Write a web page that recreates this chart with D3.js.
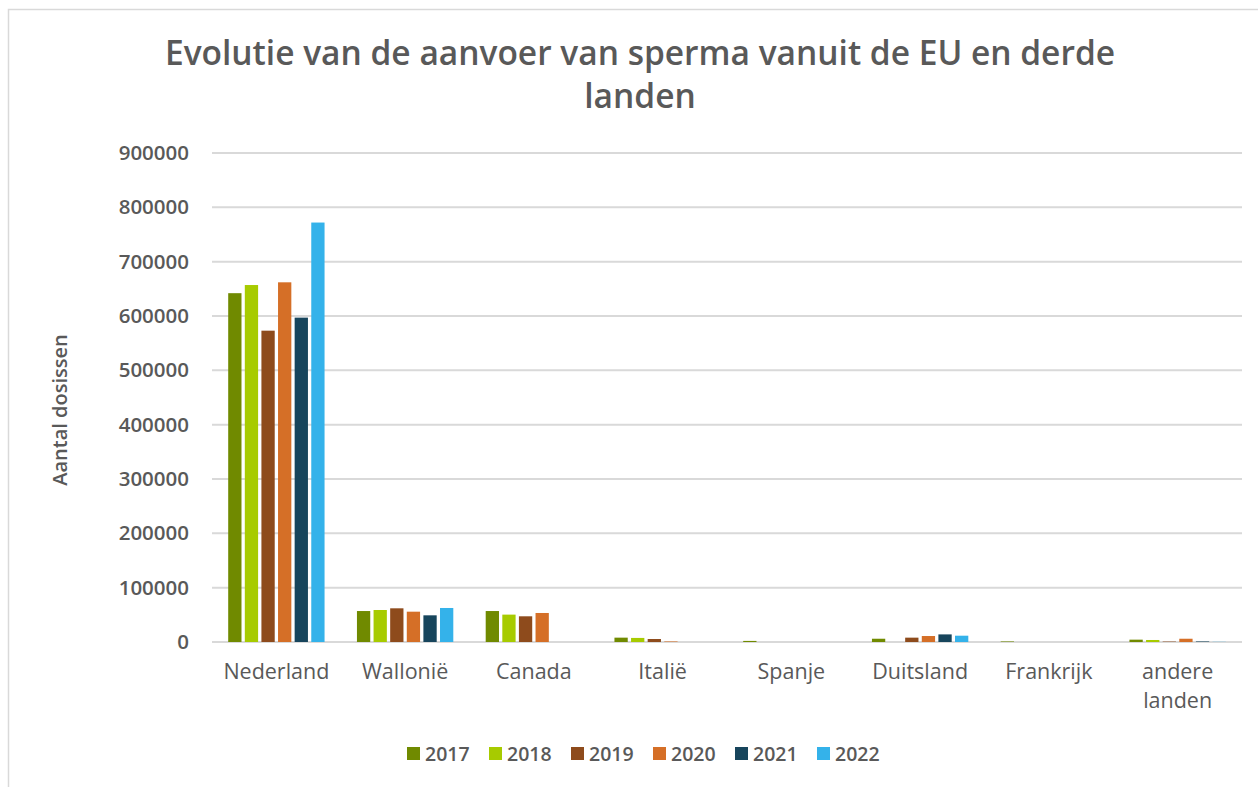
<!DOCTYPE html>
<html>
<head>
<meta charset="utf-8">
<script src="https://cdn.jsdelivr.net/npm/d3@7"></script>
<style>
  body { margin: 0; background: #fff; }
  text { font-family: 'Open Sans', sans-serif; fill: #595959; }
</style>
</head>
<body>
<script>
// Data
const countries = ['Nederland', 'Wallonië', 'Canada', 'Italië', 'Spanje', 'Duitsland', 'Frankrijk', 'andere landen'];
const years = ['2017', '2018', '2019', '2020', '2021', '2022'];
const colors = ['#708a00', '#a7cb00', '#8e4b1c', '#d56f27', '#17455c', '#34b2ea'];

// one array per year, values in the order of countries
const v2017 = [642000, 57000, 57000, 8000, 2000, 6000, 1000, 4300];
const v2018 = [657000, 58900, 50400, 7500, 0, 0, 0, 3700];
const v2019 = [573000, 62000, 47300, 5500, 0, 8000, 0, 800];
const v2020 = [662000, 55800, 53400, 1000, 0, 11000, 0, 6000];
const v2021 = [597000, 49100, 0, 0, 0, 14000, 0, 1000];
const v2022 = [772000, 62600, 0, 0, 0, 11600, 0, 300];
const series = [v2017, v2018, v2019, v2020, v2021, v2022];

const yTicks = [0, 100000, 200000, 300000, 400000, 500000, 600000, 700000, 800000, 900000];

// Width and height
const w = 1258;
const h = 787;
const plot = { left: 212, right: 1242, top: 153, bottom: 642 };

const svg = d3.select('body').append('svg').attr('width', w).attr('height', h);

// Chart border
svg.append('rect')
  .attr('x', 8.5).attr('y', 9.5)
  .attr('width', w + 10).attr('height', h + 10)
  .attr('fill', 'none')
  .attr('stroke', '#d9d9d9')
  .attr('stroke-width', 1.5);

// Title
const title = svg.append('text')
  .attr('text-anchor', 'middle')
  .style('font-size', '33.5px')
  .style('font-weight', 600);
title.append('tspan').attr('x', 640).attr('y', 65).text('Evolutie van de aanvoer van sperma vanuit de EU en derde');
title.append('tspan').attr('x', 640).attr('y', 108).text('landen');

// Scales
const x0 = d3.scaleBand().domain(countries).range([plot.left, plot.right]).paddingInner(0.2).paddingOuter(0.1);
const x1 = d3.scaleBand().domain(years).range([0, x0.bandwidth()]).padding(0.2);
const y = d3.scaleLinear().domain([0, 900000]).range([plot.bottom, plot.top]);

// Gridlines
svg.append('g')
  .selectAll('line')
  .data(yTicks)
  .enter()
  .append('line')
  .attr('x1', plot.left)
  .attr('x2', plot.right)
  .attr('y1', d => y(d))
  .attr('y2', d => y(d))
  .attr('stroke', '#d9d9d9')
  .attr('stroke-width', 2);

// Y axis labels
const yAxis = svg.append('g')
  .attr('transform', `translate(${plot.left - 23},0)`)
  .call(d3.axisLeft(y).tickValues(yTicks).tickFormat(d3.format('d')).tickSize(0).tickPadding(0));
yAxis.select('.domain').remove();
yAxis.selectAll('text')
  .style('font-size', '20.5px')
  .style('font-weight', 600)
  .style('font-family', "'Open Sans', sans-serif")
  .attr('fill', '#595959');

// Bars
svg.append('g')
  .selectAll('g')
  .data(series)
  .enter()
  .append('g')
  .attr('fill', (d, i) => colors[i])
  .each(function(vals, i) {
    d3.select(this)
      .selectAll('rect')
      .data(vals.map((v, j) => ({ country: countries[j], year: years[i], value: v })))
      .enter()
      .append('rect')
      .attr('x', d => x0(d.country) + x1(d.year))
      .attr('width', x1.bandwidth())
      .attr('y', d => y(d.value))
      .attr('height', d => plot.bottom - y(d.value));
  });

// Category labels
const xl = svg.append('g')
  .selectAll('text')
  .data(countries)
  .enter()
  .append('text')
  .attr('text-anchor', 'middle')
  .style('font-size', '21.5px')
  .style('font-weight', 500);
xl.each(function(d) {
  const cx = x0(d) + x0.bandwidth() / 2;
  const parts = d === 'andere landen' ? ['andere', 'landen'] : [d];
  parts.forEach((p, k) => {
    d3.select(this).append('tspan').attr('x', cx).attr('y', 679 + k * 29).text(p);
  });
});

// Y axis title
svg.append('text')
  .attr('transform', 'translate(67,410) rotate(-90)')
  .attr('text-anchor', 'middle')
  .style('font-size', '20px')
  .style('font-weight', 600)
  .text('Aantal dosissen');

// Legend
const legend = svg.append('g')
  .selectAll('g')
  .data(years)
  .enter()
  .append('g')
  .attr('transform', (d, i) => `translate(${407 + i * 82},754)`);
legend.append('rect')
  .attr('x', 0).attr('y', -7)
  .attr('width', 13).attr('height', 13)
  .attr('fill', (d, i) => colors[i]);
legend.append('text')
  .attr('x', 18).attr('y', 7)
  .style('font-size', '19.5px')
  .style('font-weight', 600)
  .text(d => d);
</script>
</body>
</html>
